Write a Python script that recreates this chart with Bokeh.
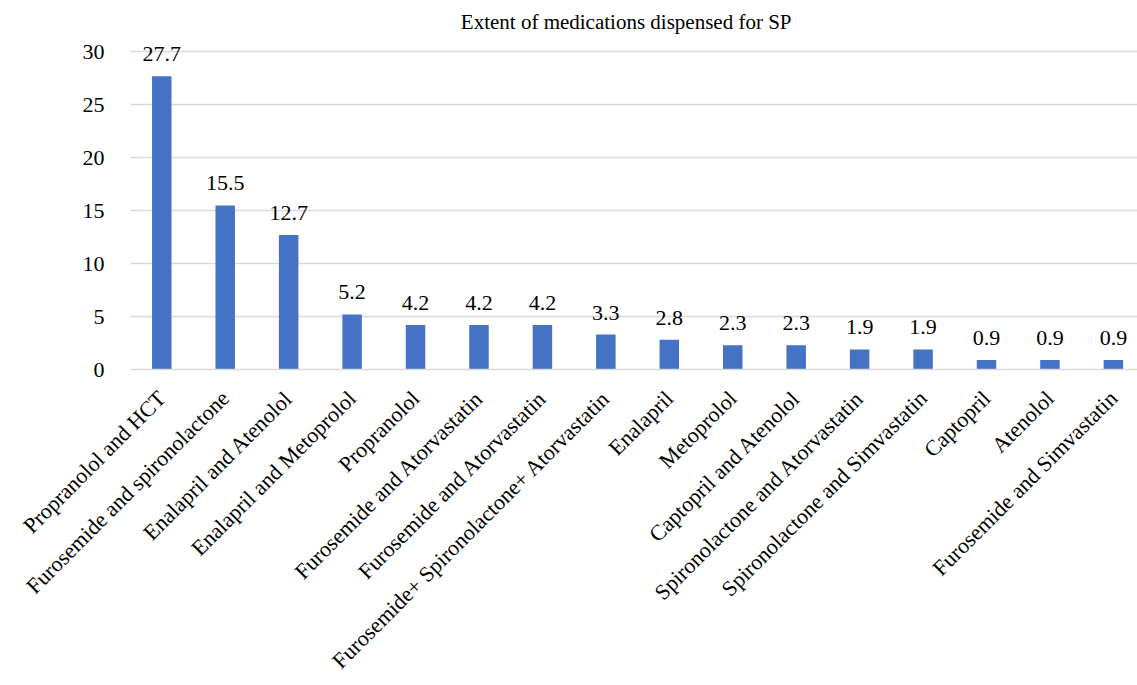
from math import pi
from bokeh.plotting import figure
from bokeh.models import ColumnDataSource, Range1d, FixedTicker, LabelSet, Label
from bokeh.core.properties import value
from bokeh.embed import file_html
from bokeh.resources import INLINE

categories = [
    "Propranolol and HCT",
    "Furosemide and spironolactone",
    "Enalapril and Atenolol",
    "Enalapril and Metoprolol",
    "Propranolol",
    "Furosemide and Atorvastatin",
    "Furosemide and Atorvastatin",
    "Furosemide+ Spironolactone+ Atorvastatin",
    "Enalapril",
    "Metoprolol",
    "Captopril and Atenolol",
    "Spironolactone and Atorvastatin",
    "Spironolactone and Simvastatin",
    "Captopril",
    "Atenolol",
    "Furosemide and Simvastatin",
]
values = [27.7, 15.5, 12.7, 5.2, 4.2, 4.2, 4.2, 3.3, 2.8, 2.3, 2.3, 1.9, 1.9, 0.9, 0.9, 0.9]
y_ticks = [0, 5, 10, 15, 20, 25, 30]
title_text = "Extent of medications dispensed for SP"

FONT = "Liberation Serif"
positions = list(range(len(categories)))
source = ColumnDataSource(dict(
    x=positions,
    top=values,
    label=[f"{v:.1f}" for v in values],
))

p = figure(
    width=1137, height=685,
    output_backend="svg", toolbar_location=None,
    x_range=Range1d(-0.493, 15.38), y_range=Range1d(0, 34),
    min_border_left=130, min_border_right=0,
    min_border_top=9, min_border_bottom=311,
)
p.outline_line_color = None
p.background_fill_color = "white"
p.border_fill_color = "white"

p.vbar(x="x", top="top", width=0.307, bottom=0, source=source,
       fill_color="#4472C4", line_color=None)

labels = LabelSet(x="x", y="top", text="label", source=source,
                  text_align="center", text_baseline="alphabetic",
                  y_offset=15, text_font=value(FONT),
                  text_font_size=value("22px"),
                  text_color=value("#000000"))
p.add_layout(labels)

# chart title, placed inside the top band of the frame
title = Label(x=7.32, y=32.85, text=title_text,
              text_align="center", text_baseline="alphabetic",
              text_font=FONT, text_font_size="21px", text_color="#000000")
p.add_layout(title)

# x axis
p.xaxis.ticker = FixedTicker(ticks=positions)
p.xaxis.major_label_overrides = {i: c for i, c in zip(positions, categories)}
p.xaxis.major_label_orientation = pi / 4
p.xaxis.major_label_text_font = FONT
p.xaxis.major_label_text_font_size = "22px"
p.xaxis.major_label_text_color = "#000000"
p.xaxis.major_tick_line_color = None
p.xaxis.minor_tick_line_color = None
p.xaxis.axis_line_color = "#D9D9D9"
p.xaxis.axis_line_width = 1.5
p.xaxis.major_label_standoff = 19
p.xgrid.grid_line_color = None

# y axis
p.yaxis.ticker = FixedTicker(ticks=y_ticks)
p.yaxis.major_label_text_font = FONT
p.yaxis.major_label_text_font_size = "22px"
p.yaxis.major_label_text_color = "#000000"
p.yaxis.axis_line_color = None
p.yaxis.major_tick_line_color = None
p.yaxis.minor_tick_line_color = None
p.yaxis.major_label_standoff = 20
p.ygrid.grid_line_color = "#D9D9D9"
p.ygrid.grid_line_width = 1.3

open("out.html", "w").write(file_html(p, INLINE))
